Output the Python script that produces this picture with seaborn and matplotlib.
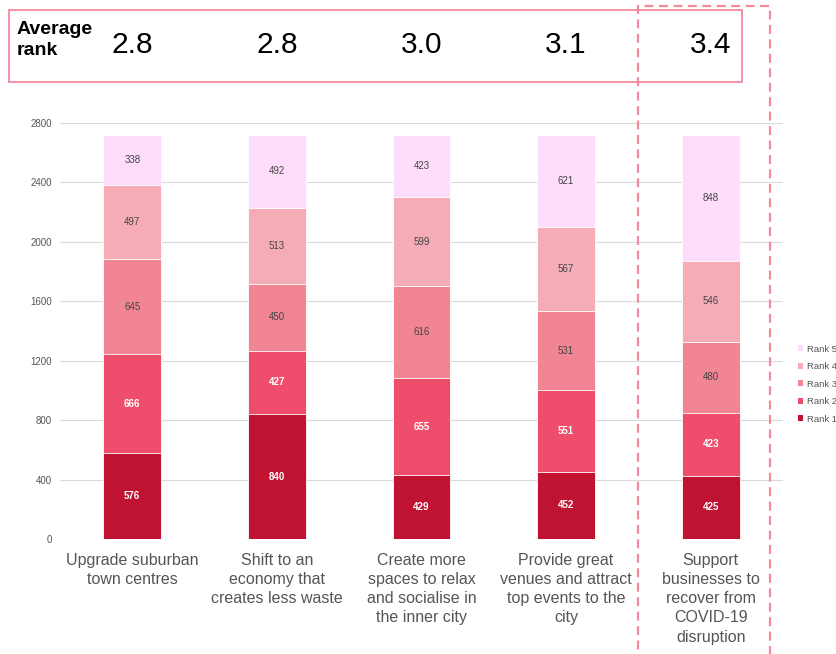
import matplotlib
matplotlib.use("Agg")
import matplotlib.pyplot as plt
from matplotlib.patches import Rectangle, Patch
import numpy as np
import pandas as pd
import seaborn as sns

categories = [
    "Upgrade suburban\ntown centres",
    "Shift to an\neconomy that\ncreates less waste",
    "Create more\nspaces to relax\nand socialise in\nthe inner city",
    "Provide great\nvenues and attract\ntop events to the\ncity",
    "Support\nbusinesses to\nrecover from\nCOVID-19\ndisruption",
]
rank_names = ["Rank 1", "Rank 2", "Rank 3", "Rank 4", "Rank 5"]
rank1 = [576, 840, 429, 452, 425]
rank2 = [666, 427, 655, 551, 423]
rank3 = [645, 450, 616, 531, 480]
rank4 = [497, 513, 599, 567, 546]
rank5 = [338, 492, 423, 621, 848]
average_rank = ["2.8", "2.8", "3.0", "3.1", "3.4"]
y_ticks = [0, 400, 800, 1200, 1600, 2000, 2400, 2800]

colors = ["#C01231", "#EE4E6C", "#F28594", "#F5ACB6", "#FDDDFB"]
label_colors = ["white", "white", "#444444", "#444444", "#444444"]
pink_line = "#F3899B"

sns.set_theme(style="white")
plt.rcParams["font.family"] = ["Liberation Sans", "DejaVu Sans"]

series = [rank1, rank2, rank3, rank4, rank5]
cum = np.cumsum(np.array(series), axis=0)

fig = plt.figure(figsize=(8.36, 6.54), dpi=100)
ax = fig.add_axes([60 / 836, 1 - 539 / 654, 723 / 836, 416 / 654])

# stacked bars: draw cumulative totals from the top layer down
for i in range(4, -1, -1):
    df = pd.DataFrame({"cat": categories, "val": cum[i]})
    sns.barplot(data=df, x="cat", y="val", color=colors[i], width=0.4,
                saturation=1, edgecolor="white", linewidth=0.6, ax=ax, zorder=2)

# segment value labels
for i in range(5):
    bottoms = cum[i] - np.array(series[i])
    for j in range(5):
        ax.text(j, bottoms[j] + series[i][j] / 2, str(series[i][j]),
                ha="center", va="center", fontsize=7,
                color=label_colors[i],
                fontweight="bold" if i < 2 else "normal", zorder=3)

ax.set_ylim(0, 2800)
ax.set_xlim(-0.5, 4.5)
ax.set_yticks(y_ticks)
ax.set_yticklabels([str(t) for t in y_ticks], fontsize=7, color="#555555")
ax.yaxis.grid(True, color="#DADADA", linewidth=0.8, zorder=0)
ax.set_axisbelow(True)
for s in ax.spines.values():
    s.set_visible(False)
ax.tick_params(axis="y", length=0, pad=6)
ax.tick_params(axis="x", length=0, pad=10)
ax.set_xticks(range(5))
ax.set_xticklabels(categories, fontsize=11.5, color="#555555", linespacing=1.35,
                   va="top")
ax.set_xlabel("")
ax.set_ylabel("")

# legend
handles = [Patch(facecolor=colors[i], edgecolor="none") for i in range(4, -1, -1)]
fig.legend(handles, [rank_names[i] for i in range(4, -1, -1)],
           loc="upper left", bbox_to_anchor=(793 / 836, 1 - 340 / 654),
           frameon=False, fontsize=6.8, handlelength=0.6, handleheight=0.6,
           handletextpad=0.4, labelspacing=0.9, borderpad=0,
           labelcolor="#555555")

# average rank header
fig.patches.append(Rectangle((9 / 836, 1 - 82 / 654), 733 / 836, 72 / 654,
                             transform=fig.transFigure, fill=False,
                             edgecolor=pink_line, linewidth=1.3))
fig.patches.append(Rectangle((638 / 836, -0.02), 132 / 836, 1 - 6 / 654 + 0.02,
                             transform=fig.transFigure, fill=False,
                             edgecolor=pink_line, linewidth=1.6,
                             linestyle=(0, (4, 2.5))))
fig.text(17 / 836, 1 - 40 / 654, "Average\nrank", fontsize=14, fontweight="bold",
         ha="left", va="center", linespacing=1.3, color="black")
for j, val in enumerate(average_rank):
    xf = ax.transData.transform((j, 0))[0]
    fig.text(xf / fig.bbox.width, 1 - 45 / 654, val, fontsize=21.5,
             ha="center", va="center", color="black")

fig.savefig("out.png", dpi=100)
